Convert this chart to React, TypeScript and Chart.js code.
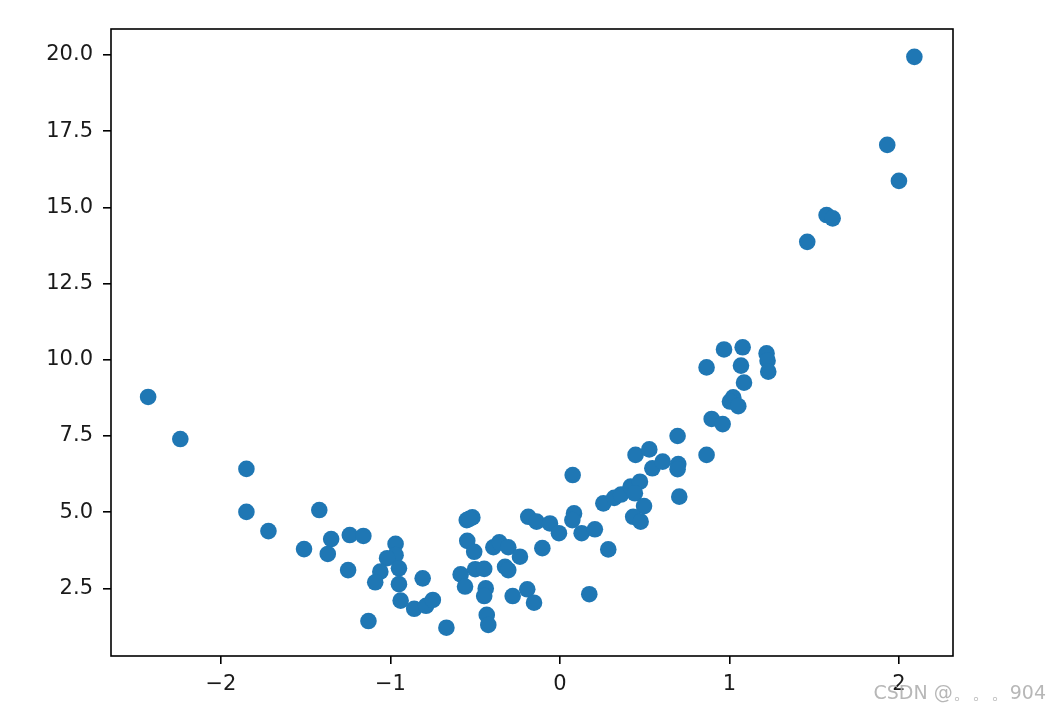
import React, { useEffect, useRef } from "react";
import { Chart, registerables } from "chart.js";

Chart.register(...registerables);

const xValues: number[] = [
  -2.43, -2.24, -1.85, -1.85, -1.72, -1.42, -1.51, -1.35, -1.37, -1.24,
  -1.16, -1.25, -1.13, -0.97, -0.97, -1.02, -1.06, -1.09, -0.95, -0.95,
  -0.81, -0.94, -0.86, -0.79, -0.75, -0.67,
  -0.586, -0.56, -0.547, -0.517, -0.55, -0.535, -0.506, -0.50, -0.447, -0.393,
  -0.358, -0.305, -0.236, -0.324, -0.305, -0.438, -0.447, -0.432, -0.423, -0.279,
  -0.193, -0.153, -0.104, -0.187, -0.138, -0.059, -0.006, 0.075, 0.083, 0.073,
  0.128, 0.206, 0.285, 0.173, 0.256, 0.32, 0.36, 0.417, 0.472, 0.442,
  0.496, 0.432, 0.476, 0.446, 0.527, 0.545, 0.606, 0.694, 0.698, 0.694,
  0.704, 0.865, 0.865, 0.895, 0.96, 0.968, 1.022, 1.003, 1.052, 1.086,
  1.068, 1.078, 1.219, 1.225, 1.229,
  2.091, 1.931, 2.0, 1.573, 1.609, 1.459,
];

const yValues: number[] = [
  8.78, 7.40, 6.42, 5.01, 4.38, 5.07, 3.79, 4.12, 3.63, 4.25,
  4.22, 3.10, 1.43, 3.96, 3.59, 3.49, 3.05, 2.70, 3.16, 2.64,
  2.83, 2.10, 1.83, 1.93, 2.12, 1.21,
  2.96, 2.56, 4.06, 4.83, 4.74, 4.78, 3.70, 3.13, 3.14, 3.85,
  4.01, 3.85, 3.54, 3.21, 3.10, 2.50, 2.25, 1.63, 1.30, 2.25,
  2.47, 2.03, 3.82, 4.85, 4.69, 4.63, 4.31, 6.22, 4.96, 4.74,
  4.31, 4.44, 3.78, 2.31, 5.29, 5.47, 5.58, 5.84, 6.00, 5.62,
  5.20, 4.85, 4.69, 6.88, 7.06, 6.44, 6.66, 7.50, 6.58, 6.41,
  5.51, 6.88, 9.75, 8.06, 7.89, 10.34, 8.77, 8.63, 8.48, 9.25,
  9.81, 10.41, 10.21, 9.97, 9.61,
  19.94, 17.05, 15.87, 14.75, 14.64, 13.87,
];

const xTicks: number[] = [-2, -1, 0, 1, 2];
const yTicks: number[] = [2.5, 5.0, 7.5, 10.0, 12.5, 15.0, 17.5, 20.0];
const watermark = "CSDN @。。。904";

const App: React.FC = () => {
  const ref = useRef<HTMLCanvasElement | null>(null);

  useEffect(() => {
    if (!ref.current) return;
    const points = xValues.map((x, i) => ({ x, y: yValues[i] }));

    const framePlugin = {
      id: "frame",
      afterDraw(chart: any) {
        const { ctx, chartArea } = chart;
        ctx.save();
        ctx.strokeStyle = "#000";
        ctx.lineWidth = 1.6;
        ctx.strokeRect(
          chartArea.left,
          chartArea.top,
          chartArea.right - chartArea.left,
          chartArea.bottom - chartArea.top
        );
        ctx.fillStyle = "rgba(175,175,175,0.9)";
        ctx.font = "19px 'DejaVu Sans', sans-serif";
        ctx.textAlign = "right";
        ctx.textBaseline = "middle";
        ctx.fillText(watermark, 1046, 694);
        ctx.restore();
      },
    };

    const fmt = (v: number, digits: number) =>
      v < 0 ? "\u2212" + Math.abs(v).toFixed(digits) : v.toFixed(digits);

    const chart = new Chart(ref.current, {
      type: "scatter",
      data: {
        datasets: [
          {
            data: points,
            backgroundColor: "#1f77b4",
            borderColor: "#1f77b4",
            borderWidth: 0,
            pointRadius: 8.3,
            pointHoverRadius: 8.3,
          },
        ],
      },
      options: {
        animation: false,
        responsive: false,
        maintainAspectRatio: false,
        layout: { padding: { top: 29, right: 98, left: 0, bottom: 0 } },
        plugins: {
          legend: { display: false },
          tooltip: { enabled: false },
        },
        scales: {
          x: {
            type: "linear",
            min: -2.649,
            max: 2.319,
            afterBuildTicks: (scale: any) => {
              scale.ticks = xTicks.map((v) => ({ value: v }));
            },
            afterFit: (scale: any) => {
              scale.height = 55;
            },
            grid: {
              drawOnChartArea: false,
              drawTicks: true,
              tickLength: 8,
              color: "#000",
              lineWidth: 1.6,
            },
            border: { display: false },
            ticks: {
              color: "#1a1a1a",
              padding: 8,
              maxRotation: 0,
              font: { family: "'DejaVu Sans', sans-serif", size: 21 },
              callback: (v: any) => fmt(Number(v), 0),
            },
          },
          y: {
            type: "linear",
            min: 0.282,
            max: 20.853,
            afterBuildTicks: (scale: any) => {
              scale.ticks = yTicks.map((v) => ({ value: v }));
            },
            afterFit: (scale: any) => {
              scale.width = 111;
            },
            grid: {
              drawOnChartArea: false,
              drawTicks: true,
              tickLength: 8,
              color: "#000",
              lineWidth: 1.6,
            },
            border: { display: false },
            ticks: {
              color: "#1a1a1a",
              padding: 10,
              font: { family: "'DejaVu Sans', sans-serif", size: 21 },
              callback: (v: any) => fmt(Number(v), 1),
            },
          },
        },
      },
      plugins: [framePlugin],
    });

    return () => chart.destroy();
  }, []);

  return (
    <div
      style={{
        position: "fixed",
        left: 0,
        top: 0,
        width: 1051,
        height: 711,
        background: "#fff",
      }}
    >
      <canvas ref={ref} width={1051} height={711} style={{ width: 1051, height: 711 }} />
    </div>
  );
};

export default App;
